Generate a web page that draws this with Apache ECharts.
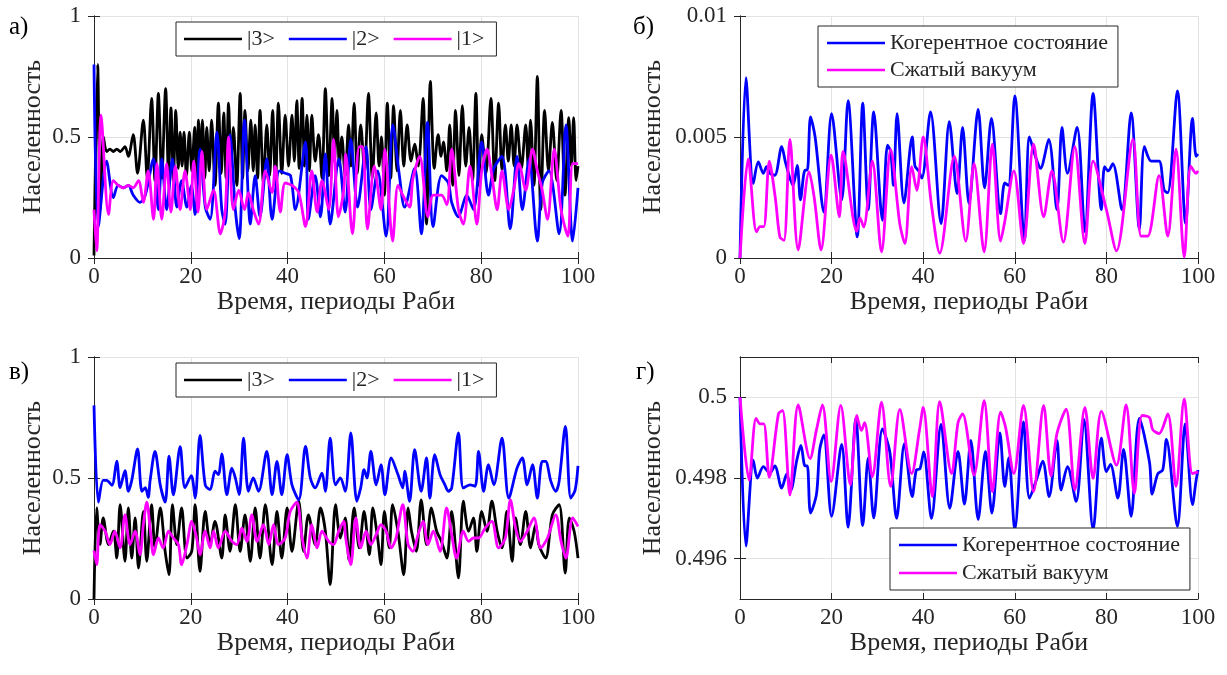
<!DOCTYPE html>
<html>
<head>
<meta charset="utf-8">
<script src="https://cdn.jsdelivr.net/npm/echarts@6/dist/echarts.min.js"></script>
<style>
  html, body { margin: 0; padding: 0; background: #fff; }
  #chart { width: 1227px; height: 675px; }
</style>
</head>
<body>
<div id="chart"></div>
<script>
// Panel labels, axis titles and legend entries
const panelTags = ['а)', 'б)', 'в)', 'г)'];
const xTitle = 'Время, периоды Раби';
const yTitle = 'Населенность';
const levelNames = ['|3>', '|2>', '|1>'];
const fieldNames = ['Когерентное состояние', 'Сжатый вакуум'];
const xTicks = [0, 20, 40, 60, 80, 100];
const yTicksD = [0.496, 0.498, 0.5];

// Panel а: level populations [time, population]
const aLevel3 = [[0,0.01],[0.75,0.8],[1.3,0.2],[1.95,0.5],[2.6,0.44],[3.3,0.45],[4.0,0.44],[4.7,0.45],[5.4,0.44],[6.4,0.46],[7.1,0.42],[8.1,0.51],[9.0,0.35],[10.2,0.57],[11.0,0.33],[11.9,0.66],[12.6,0.32],[13.3,0.68],[14.0,0.33],[14.8,0.70],[15.4,0.34],[15.9,0.62],[16.4,0.32],[16.9,0.61],[17.4,0.37],[17.8,0.52],[18.2,0.38],[18.6,0.52],[19.1,0.34],[19.7,0.52],[20.2,0.36],[20.8,0.54],[21.2,0.30],[21.6,0.57],[22.0,0.36],[22.4,0.57],[22.9,0.33],[23.3,0.54],[23.8,0.36],[24.3,0.57],[25.0,0.30],[25.7,0.64],[26.3,0.35],[26.8,0.60],[27.3,0.33],[27.8,0.64],[28.3,0.38],[28.8,0.54],[29.5,0.30],[30.2,0.68],[30.7,0.33],[31.2,0.61],[31.8,0.36],[32.4,0.57],[32.9,0.36],[33.3,0.55],[33.8,0.33],[34.3,0.61],[35.0,0.31],[35.7,0.55],[36.3,0.34],[36.9,0.61],[37.5,0.30],[38.1,0.64],[38.8,0.35],[39.5,0.59],[40.2,0.38],[40.9,0.59],[41.4,0.40],[41.9,0.65],[42.4,0.37],[43.0,0.66],[43.5,0.38],[44.0,0.59],[44.5,0.36],[45.0,0.59],[45.7,0.40],[46.4,0.51],[47.1,0.33],[47.8,0.70],[48.5,0.34],[49.2,0.66],[49.7,0.40],[50.2,0.61],[50.7,0.38],[51.2,0.50],[51.9,0.34],[52.6,0.55],[53.1,0.38],[53.75,0.64],[54.4,0.35],[55.1,0.55],[55.9,0.36],[56.7,0.68],[57.5,0.33],[58.3,0.60],[58.9,0.38],[59.4,0.50],[60.0,0.26],[60.6,0.64],[61.3,0.33],[61.9,0.63],[62.6,0.36],[63.3,0.61],[64.0,0.38],[64.7,0.55],[65.5,0.40],[66.25,0.47],[67.0,0.38],[68.0,0.66],[68.7,0.14],[69.5,0.73],[70.3,0.37],[71.1,0.51],[71.7,0.42],[72.2,0.48],[72.9,0.36],[73.5,0.55],[74.1,0.30],[74.7,0.61],[75.4,0.34],[76.1,0.63],[76.8,0.38],[77.5,0.54],[78.2,0.32],[78.9,0.68],[79.5,0.30],[80.1,0.51],[81.0,0.35],[82.0,0.66],[82.8,0.32],[83.6,0.64],[84.3,0.36],[85.0,0.55],[85.6,0.40],[86.2,0.55],[86.8,0.38],[87.4,0.55],[88.3,0.37],[89.2,0.55],[89.7,0.38],[90.2,0.57],[90.9,0.30],[91.6,0.75],[92.3,0.20],[93.1,0.61],[93.9,0.36],[94.7,0.56],[95.6,0.32],[96.5,0.61],[97.3,0.26],[98.1,0.58],[98.6,0.38],[99.1,0.58],[99.6,0.32],[100,0.38]];
const aLevel2 = [[0,0.8],[0.9,0.13],[2.6,0.40],[4.0,0.25],[5.0,0.30],[6.1,0.29],[7.1,0.30],[8.1,0.26],[9.5,0.23],[10.6,0.26],[12.3,0.41],[13.3,0.20],[14.0,0.41],[15.0,0.20],[16.2,0.41],[17.1,0.21],[18.1,0.32],[19.2,0.21],[20.1,0.30],[20.9,0.18],[21.9,0.45],[23.0,0.21],[24.0,0.16],[25.4,0.52],[26.4,0.20],[27.1,0.14],[28.1,0.51],[29.2,0.20],[30.0,0.08],[31.1,0.57],[32.3,0.14],[33.3,0.34],[34.3,0.17],[35.7,0.41],[36.8,0.16],[38.3,0.36],[39.5,0.35],[40.6,0.34],[41.6,0.20],[43.7,0.48],[44.3,0.16],[45.7,0.34],[46.8,0.17],[47.8,0.43],[48.8,0.14],[50.6,0.41],[51.9,0.19],[53.06,0.49],[54.45,0.21],[56.2,0.46],[57.2,0.20],[58.6,0.36],[60.35,0.09],[61.74,0.55],[63.1,0.34],[64.17,0.21],[66.25,0.37],[67.64,0.10],[68.9,0.56],[70.07,0.13],[71.8,0.34],[73.2,0.31],[73.9,0.23],[75.3,0.17],[77.0,0.26],[78.4,0.20],[80.1,0.48],[81.5,0.26],[82.6,0.37],[84.3,0.42],[86.0,0.12],[87.4,0.42],[88.5,0.20],[89.9,0.41],[91.6,0.07],[92.6,0.31],[94.0,0.36],[96.1,0.10],[97.5,0.55],[98.9,0.07],[100,0.29]];
const aLevel1 = [[0,0.2],[0.55,0.03],[1.45,0.59],[3.0,0.18],[4.0,0.32],[5.0,0.30],[6.1,0.29],[7.1,0.30],[8.1,0.29],[9.2,0.32],[10.2,0.23],[11.2,0.36],[12.3,0.16],[13.0,0.39],[14.0,0.16],[15.0,0.39],[15.9,0.19],[16.8,0.38],[17.8,0.20],[18.8,0.36],[19.9,0.20],[20.6,0.40],[21.5,0.19],[22.3,0.44],[23.3,0.20],[24.7,0.28],[26.1,0.10],[27.1,0.19],[27.8,0.50],[28.8,0.20],[29.9,0.28],[31.1,0.20],[31.9,0.27],[32.9,0.20],[34.0,0.14],[35.4,0.36],[36.8,0.27],[37.45,0.38],[38.5,0.19],[39.5,0.31],[40.9,0.30],[42.3,0.27],[43.7,0.13],[45.0,0.36],[46.1,0.19],[47.1,0.32],[48.5,0.20],[49.5,0.49],[50.5,0.17],[51.6,0.28],[52.0,0.43],[53.4,0.10],[54.8,0.46],[55.5,0.46],[56.5,0.12],[57.9,0.38],[59.3,0.20],[60.1,0.45],[61.7,0.07],[62.8,0.30],[63.8,0.26],[65.2,0.21],[65.9,0.33],[67.3,0.42],[69.0,0.17],[70.1,0.26],[71.8,0.26],[72.9,0.22],[73.9,0.45],[75.3,0.20],[76.3,0.14],[77.7,0.38],[79.1,0.14],[80.1,0.36],[81.2,0.45],[82.2,0.34],[83.3,0.20],[84.3,0.36],[85.7,0.20],[86.7,0.28],[87.8,0.39],[89.2,0.28],[90.6,0.45],[91.6,0.36],[92.6,0.28],[93.7,0.16],[95.1,0.45],[96.5,0.20],[97.9,0.09],[98.9,0.39],[100,0.39]];

// Panel б: population, coherent vs squeezed vacuum
const bCoherent = [[0,0],[1.3,0.00745],[2.9,0.00308],[4.0,0.00397],[5.1,0.0035],[5.8,0.00377],[6.5,0.0035],[7.6,0.00342],[9.1,0.0046],[10.0,0.0039],[11.6,0.003],[12.5,0.00383],[13.2,0.0024],[14.2,0.00363],[14.7,0.00363],[15.4,0.00583],[16.4,0.005],[18.3,0.0019],[20.0,0.00597],[22.2,0.0024],[23.6,0.0065],[25.6,0.00087],[26.8,0.0064],[28.0,0.002],[29.2,0.00604],[31.1,0.00156],[32.2,0.00466],[32.9,0.0044],[33.5,0.003],[34.3,0.00597],[35.8,0.00228],[37.6,0.005],[38.2,0.0038],[39.0,0.0036],[39.7,0.0033],[41.6,0.00604],[43.9,0.00142],[45.7,0.00563],[47.4,0.00266],[48.6,0.0054],[50.0,0.00225],[52.0,0.00614],[53.4,0.0029],[54.9,0.00577],[56.9,0.00183],[57.8,0.0031],[58.6,0.003],[60.0,0.0067],[62.1,0.00073],[63.2,0.005],[64.5,0.0042],[65.6,0.0037],[67.4,0.0049],[69.2,0.002],[70.3,0.0054],[71.5,0.0035],[73.6,0.0054],[75.3,0.00108],[77.1,0.0068],[78.9,0.002],[79.6,0.00377],[80.4,0.0036],[81.4,0.0039],[83.4,0.002],[85.4,0.006],[87.2,0.0012],[88.3,0.0046],[89.8,0.004],[91.5,0.004],[92.6,0.0028],[93.4,0.0027],[95.5,0.0069],[97.3,0.00142],[98.8,0.00577],[99.6,0.0042],[100,0.0043]];
const bSqueezed = [[0,0],[1.8,0.0041],[3.6,0.00108],[4.4,0.0013],[5.2,0.0013],[6.4,0.004],[7.7,0.0025],[8.7,0.00087],[9.6,0.00073],[10.9,0.0049],[12.7,0.00034],[15.1,0.00356],[16.2,0.0025],[17.7,0.00034],[19.9,0.00425],[21.7,0.0017],[22.5,0.0044],[25.5,0.0011],[26.2,0.00166],[27.0,0.00128],[28.9,0.004],[30.9,0.00025],[32.9,0.00448],[34.9,0.0014],[36.0,0.0006],[37.5,0.00377],[38.6,0.0028],[40.0,0.005],[41.8,0.0022],[43.6,0.0002],[46.8,0.0042],[49.3,0.0007],[51.1,0.0039],[53.3,0.00025],[55.1,0.0047],[56.9,0.0007],[57.8,0.0015],[59.8,0.0036],[61.9,0.0006],[64.1,0.0047],[66.3,0.0017],[68.1,0.0036],[70.6,0.00066],[73.1,0.0046],[75.3,0.0006],[77.1,0.004],[80.0,0.002],[82.2,0.0003],[85.8,0.0049],[87.6,0.0009],[89.0,0.0009],[91.5,0.0034],[93.4,0.0009],[95.2,0.0045],[97.0,0.00004],[98.4,0.0038],[99.6,0.0035],[100,0.0036]];

// Panel в: level populations [time, population]
const cLevel3 = [[0,0],[0.55,0.376],[1.24,0.225],[1.9,0.335],[3.0,0.225],[4.0,0.28],[4.7,0.169],[5.4,0.39],[6.4,0.156],[7.1,0.376],[7.8,0.169],[8.5,0.335],[9.2,0.128],[10.2,0.362],[10.9,0.156],[11.9,0.39],[12.6,0.211],[13.7,0.376],[14.7,0.197],[15.5,0.10],[16.2,0.39],[17.1,0.225],[18.1,0.376],[19.2,0.169],[20.2,0.197],[20.9,0.39],[21.9,0.114],[22.97,0.362],[24.0,0.225],[25.0,0.321],[26.4,0.169],[27.1,0.348],[28.1,0.197],[29.2,0.39],[30.2,0.197],[31.2,0.348],[32.3,0.156],[33.3,0.376],[34.3,0.169],[35.4,0.39],[36.8,0.142],[37.8,0.362],[38.8,0.169],[39.9,0.376],[40.9,0.197],[42.3,0.404],[43.3,0.197],[44.3,0.348],[45.7,0.225],[46.8,0.376],[47.8,0.28],[48.8,0.059],[49.9,0.39],[50.9,0.252],[51.9,0.335],[52.7,0.16],[53.75,0.376],[54.8,0.211],[55.8,0.362],[56.9,0.183],[57.6,0.376],[58.6,0.252],[59.3,0.142],[60.0,0.362],[61.0,0.211],[61.7,0.39],[62.8,0.28],[64.0,0.10],[64.9,0.376],[65.6,0.28],[66.6,0.197],[67.6,0.41],[68.7,0.225],[69.7,0.376],[70.8,0.28],[71.8,0.238],[72.9,0.169],[73.9,0.362],[75.3,0.087],[76.3,0.404],[77.4,0.28],[78.4,0.335],[79.1,0.197],[80.1,0.362],[81.2,0.28],[82.2,0.404],[83.3,0.28],[84.3,0.211],[85.3,0.362],[86.4,0.156],[87.1,0.335],[88.1,0.225],[89.2,0.362],[90.2,0.211],[91.25,0.307],[91.9,0.225],[93.3,0.169],[94.7,0.348],[96.1,0.39],[97.36,0.107],[98.2,0.335],[99.2,0.28],[100,0.169]];
const cLevel2 = [[0,0.8],[0.9,0.40],[1.9,0.49],[2.6,0.49],[3.7,0.47],[4.7,0.57],[5.4,0.46],[6.4,0.53],[7.1,0.445],[7.8,0.49],[9.0,0.62],[9.9,0.445],[10.6,0.46],[11.2,0.42],[11.6,0.49],[12.6,0.61],[13.7,0.47],[14.7,0.40],[15.5,0.59],[16.4,0.43],[17.8,0.63],[18.8,0.46],[20.1,0.51],[20.9,0.417],[21.9,0.676],[23.0,0.47],[24.0,0.452],[25.0,0.528],[25.7,0.514],[26.4,0.60],[27.45,0.431],[28.5,0.541],[29.2,0.50],[30.0,0.431],[30.9,0.665],[31.9,0.445],[32.9,0.50],[34.0,0.445],[35.7,0.61],[36.8,0.431],[37.8,0.569],[38.8,0.431],[39.9,0.596],[40.9,0.472],[42.3,0.41],[43.7,0.631],[44.7,0.50],[45.7,0.459],[47.1,0.52],[47.8,0.445],[48.8,0.665],[49.9,0.472],[50.9,0.50],[51.9,0.445],[53.06,0.686],[54.3,0.404],[55.1,0.459],[55.8,0.534],[56.4,0.50],[57.2,0.61],[58.3,0.472],[59.3,0.555],[60.1,0.431],[61.4,0.583],[62.8,0.514],[63.8,0.459],[64.2,0.528],[65.2,0.404],[66.25,0.617],[67.6,0.445],[68.7,0.583],[69.4,0.417],[70.4,0.596],[71.5,0.514],[72.5,0.472],[73.2,0.445],[73.9,0.459],[75.3,0.686],[76.3,0.459],[77.7,0.472],[78.75,0.466],[79.45,0.61],[80.5,0.445],[81.5,0.555],[82.6,0.472],[84.3,0.665],[85.7,0.417],[87.4,0.541],[88.5,0.583],[89.5,0.472],[90.6,0.555],[91.6,0.417],[92.6,0.569],[93.3,0.569],[94.4,0.486],[95.4,0.445],[96.1,0.486],[97.4,0.713],[98.5,0.417],[99.4,0.45],[100,0.55]];
const cLevel1 = [[0,0.2],[0.55,0.142],[1.24,0.307],[2.3,0.28],[3.3,0.225],[4.3,0.28],[5.4,0.211],[6.4,0.348],[7.45,0.225],[8.5,0.28],[9.5,0.183],[10.2,0.307],[10.9,0.40],[11.6,0.293],[12.3,0.183],[13.3,0.252],[14.3,0.211],[15.4,0.28],[16.4,0.252],[17.45,0.225],[18.1,0.142],[19.2,0.225],[20.2,0.321],[21.2,0.252],[21.9,0.183],[22.97,0.28],[24.0,0.211],[24.7,0.28],[25.7,0.211],[27.1,0.28],[28.5,0.238],[29.5,0.225],[30.55,0.293],[31.6,0.238],[32.6,0.348],[33.7,0.238],[35.0,0.307],[36.1,0.225],[37.1,0.307],[38.1,0.225],[39.5,0.252],[40.55,0.362],[41.9,0.40],[43.0,0.252],[44.0,0.169],[45.0,0.307],[46.1,0.211],[47.1,0.28],[48.5,0.238],[49.5,0.225],[50.55,0.28],[51.6,0.321],[52.0,0.252],[53.06,0.142],[54.1,0.335],[55.1,0.211],[56.2,0.28],[57.2,0.225],[58.3,0.266],[59.3,0.307],[60.35,0.28],[61.4,0.211],[62.4,0.252],[63.8,0.39],[64.9,0.225],[65.9,0.197],[66.95,0.266],[67.99,0.321],[69.0,0.225],[70.1,0.28],[71.5,0.197],[72.85,0.376],[73.9,0.266],[74.9,0.169],[76.3,0.28],[77.4,0.238],[78.4,0.252],[79.45,0.252],[80.8,0.293],[82.2,0.321],[83.6,0.211],[85.0,0.252],[86.04,0.41],[87.1,0.293],[88.1,0.238],[89.5,0.28],[90.9,0.335],[92.3,0.211],[93.7,0.252],[95.4,0.348],[96.5,0.238],[97.5,0.169],[98.9,0.335],[100,0.30]];

// Panel г: population, coherent vs squeezed vacuum
const dCoherent = [[0,0.5],[1.3,0.49631],[2.9,0.49844],[3.8,0.498],[5.1,0.49828],[6.5,0.49812],[7.6,0.4983],[9.1,0.49775],[10.2,0.4981],[11.1,0.4977],[12.4,0.49844],[13.3,0.49881],[14.2,0.4983],[14.7,0.4983],[15.4,0.49713],[16.7,0.4976],[17.4,0.4987],[18.3,0.49907],[20.0,0.49705],[22.2,0.49883],[23.6,0.49678],[25.3,0.49947],[26.8,0.49682],[28.0,0.4985],[29.2,0.49701],[31.1,0.49922],[32.7,0.49865],[34.2,0.497],[35.9,0.49885],[37.6,0.49754],[38.5,0.4982],[39.3,0.49823],[40.1,0.49865],[41.8,0.497],[43.9,0.49933],[45.8,0.49725],[47.6,0.49866],[49.0,0.49735],[50.4,0.49893],[52.0,0.49697],[53.6,0.49866],[55.0,0.49713],[56.75,0.49912],[57.8,0.49779],[58.7,0.4985],[60.0,0.49672],[61.9,0.49939],[63.2,0.4975],[64.8,0.49798],[66.1,0.49842],[67.5,0.49754],[69.2,0.49893],[70.1,0.4977],[71.5,0.49828],[73.4,0.49742],[75.1,0.49945],[77.1,0.49672],[78.9,0.49899],[80.0,0.49816],[80.9,0.49834],[82.5,0.4975],[83.75,0.49871],[85.4,0.49705],[87.2,0.49948],[89.4,0.4984],[90.0,0.4976],[91.2,0.4981],[92.3,0.4982],[93.1,0.49896],[95.5,0.4968],[97.2,0.49934],[98.8,0.49734],[99.6,0.49795],[100,0.4982]];
const dSqueezed = [[0,0.5],[2.0,0.49795],[3.5,0.49948],[4.4,0.49934],[5.2,0.49934],[6.4,0.49802],[8.4,0.49959],[9.3,0.49967],[10.9,0.49758],[12.7,0.49981],[15.3,0.49848],[16.7,0.4992],[18.0,0.49981],[19.9,0.49791],[22.0,0.4998],[24.1,0.49783],[25.5,0.49955],[26.5,0.49918],[27.2,0.49937],[28.9,0.49803],[30.9,0.49988],[32.9,0.49779],[34.9,0.4997],[37.5,0.49811],[39.2,0.4992],[40.0,0.49975],[42.0,0.49754],[43.6,0.49989],[46.2,0.49811],[47.6,0.49937],[48.6,0.49959],[51.1,0.49807],[53.3,0.49992],[55.1,0.49766],[56.9,0.49963],[58.0,0.49925],[59.8,0.49811],[61.9,0.4998],[64.1,0.49766],[66.3,0.4998],[67.9,0.49805],[69.2,0.4991],[71.2,0.49971],[73.1,0.4977],[75.3,0.49975],[77.1,0.49799],[78.9,0.49965],[82.2,0.49832],[84.3,0.49981],[86.1,0.49762],[87.8,0.49955],[89.4,0.4995],[90.1,0.4992],[91.5,0.4991],[93.4,0.49959],[95.2,0.49779],[97.0,0.49996],[98.8,0.49811],[100,0.49815]];

const FONT = 'Liberation Serif';
const INK = '#262626';
const GRIDLINE = '#e3e3e3';

// Plot boxes (pixels)
const boxes = [
  { left: 94,  top: 16,  width: 484, height: 242 },
  { left: 740, top: 16,  width: 458, height: 242 },
  { left: 94,  top: 357, width: 484, height: 242 },
  { left: 740, top: 357, width: 458, height: 242 }
];
const yRanges = [
  { min: 0, max: 1, interval: 0.5 },
  { min: 0, max: 0.01, interval: 0.005 },
  { min: 0, max: 1, interval: 0.5 },
  { min: 0.495, max: 0.501, custom: yTicksD }
];
const yNameGaps = [48, 74, 48, 74];

function fmtY(v) { return String(+(+v).toFixed(4)); }

const xAxes = [], yAxes = [];
boxes.forEach((b, i) => {
  xAxes.push({
    type: 'value', gridIndex: i, min: 0, max: 100, interval: 20,
    name: xTitle, nameLocation: 'middle', nameGap: 21,
    nameTextStyle: { fontFamily: FONT, fontSize: 26, color: INK },
    axisLine: { show: true, lineStyle: { color: INK, width: 1 } },
    axisTick: { show: true, inside: true, length: 6, lineStyle: { color: INK } },
    axisLabel: { fontFamily: FONT, fontSize: 23, color: INK, margin: 7, customValues: xTicks },
    splitLine: { show: true, lineStyle: { color: GRIDLINE, width: 1 } }
  });
  const r = yRanges[i];
  const y = {
    type: 'value', gridIndex: i, min: r.min, max: r.max,
    name: yTitle, nameLocation: 'middle', nameGap: yNameGaps[i],
    nameTextStyle: { fontFamily: FONT, fontSize: 26, color: INK },
    axisLine: { show: true, lineStyle: { color: INK, width: 1 } },
    axisTick: { show: true, inside: true, length: 6, lineStyle: { color: INK } },
    axisLabel: { fontFamily: FONT, fontSize: 23, color: INK, margin: 13, formatter: fmtY },
    splitLine: { show: true, lineStyle: { color: GRIDLINE, width: 1 } }
  };
  if (r.custom) {
    y.axisTick.customValues = r.custom;
    y.axisLabel.customValues = r.custom;
  } else {
    y.interval = r.interval;
  }
  yAxes.push(y);
});
// Mirrored top / right axes closing each box, ticks only
boxes.forEach((b, i) => {
  xAxes.push({
    type: 'value', gridIndex: i, min: 0, max: 100, interval: 20, position: 'top',
    axisLine: { show: true, lineStyle: { color: INK, width: 1 } },
    axisTick: { show: true, inside: true, length: 6, lineStyle: { color: INK } },
    axisLabel: { show: false }, splitLine: { show: false }
  });
  const r = yRanges[i];
  const y = {
    type: 'value', gridIndex: i, min: r.min, max: r.max, position: 'right',
    axisLine: { show: true, lineStyle: { color: INK, width: 1 } },
    axisTick: { show: true, inside: true, length: 6, lineStyle: { color: INK } },
    axisLabel: { show: false }, splitLine: { show: false }
  };
  if (r.custom) { y.axisTick.customValues = r.custom; } else { y.interval = r.interval; }
  yAxes.push(y);
});

function line(name, data, color, idx) {
  return {
    type: 'line', name: name, data: data, xAxisIndex: idx, yAxisIndex: idx,
    symbol: 'none', showSymbol: false, smooth: 0.3,
    lineStyle: { color: color, width: 2.8 }, itemStyle: { color: color },
    emphasis: { disabled: true }, animation: false, clip: true
  };
}

const BLACK = '#000000', BLUE = '#0000ff', MAGENTA = '#ff00ff';
const series = [
  line(levelNames[0], aLevel3, BLACK, 0),
  line(levelNames[1], aLevel2, BLUE, 0),
  line(levelNames[2], aLevel1, MAGENTA, 0),
  line(fieldNames[0], bCoherent, BLUE, 1),
  line(fieldNames[1], bSqueezed, MAGENTA, 1),
  line(levelNames[0], cLevel3, BLACK, 2),
  line(levelNames[1], cLevel2, BLUE, 2),
  line(levelNames[2], cLevel1, MAGENTA, 2),
  line(fieldNames[0], dCoherent, BLUE, 3),
  line(fieldNames[1], dSqueezed, MAGENTA, 3)
];

function legendBox(names, left, top, orient, gap, pad) {
  return {
    data: names, left: left, top: top, orient: orient,
    icon: 'rect', itemWidth: 58, itemHeight: 2.5, itemGap: gap,
    padding: pad, borderColor: INK, borderWidth: 1, backgroundColor: '#ffffff',
    textStyle: { fontFamily: FONT, fontSize: 22, color: INK },
    selectedMode: false, z: 10
  };
}

const tagPos = [[9, 15], [633, 15], [9, 360], [636, 360]];
const graphics = panelTags.map((t, i) => ({
  type: 'text', left: tagPos[i][0], top: tagPos[i][1], z: 20,
  style: { text: t, fontFamily: FONT, fontSize: 25, fill: '#000' }
}));

const chart = echarts.init(document.getElementById('chart'), null, { renderer: 'canvas' });
chart.setOption({
  backgroundColor: '#ffffff',
  animation: false,
  textStyle: { fontFamily: FONT },
  grid: boxes.map(b => Object.assign({ containLabel: false, show: false }, b)),
  xAxis: xAxes,
  yAxis: yAxes,
  legend: [
    legendBox(levelNames, 176, 22, 'horizontal', 14, [6, 12, 6, 8]),
    legendBox(fieldNames, 818, 26, 'vertical', 5, [6, 10, 6, 9]),
    legendBox(levelNames, 176, 363, 'horizontal', 14, [6, 12, 6, 8]),
    legendBox(fieldNames, 890, 528, 'vertical', 6, [6, 10, 6, 9])
  ],
  graphic: graphics,
  series: series
});
</script>
</body>
</html>
